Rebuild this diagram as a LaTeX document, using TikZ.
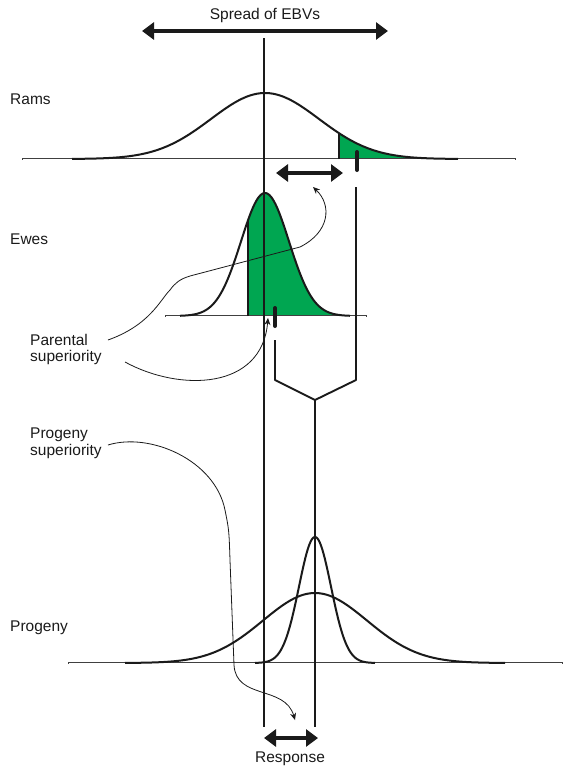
\documentclass[tikz,border=0pt]{standalone}
\usepackage{fontspec}
\setmainfont{Liberation Sans}
\usetikzlibrary{arrows.meta}
\definecolor{fillgreen}{HTML}{00A651}
\definecolor{ink}{HTML}{1A1A1A}
\pgfmathdeclarefunction{bell}{3}{\pgfmathparse{exp(-0.5*pow((#1-#2)/#3,2))}}
\tikzset{
  every picture/.style={x=1pt, y=-1pt, line join=round},
  lbl/.style={font=\fontsize{15.5}{16.5}\selectfont, inner sep=0pt, text=ink},
  axisedge/.style={draw=black!75, line width=2.6pt},
  axiscore/.style={draw=white, line width=1pt},
  curve/.style={draw=ink, line width=2pt},
  guide/.style={draw=ink, line width=1.9pt},
  tickmark/.style={draw=ink, line width=4pt, line cap=round},
  span/.style={draw=ink, line width=4.5pt, {Triangle[width=17pt,length=12pt]}-{Triangle[width=17pt,length=12pt]}},
  annot/.style={draw=ink, line width=0.8pt, -{Stealth[length=7pt,width=6pt]}},
}
\begin{document}
\begin{tikzpicture}
  \useasboundingbox (0,0) rectangle (565,766);
  % selected parts
  \fill[fillgreen] (339,159) -- plot[domain=339:455, samples=40] (\x,{159-66*bell(\x,265,54)}) -- (455,159) -- cycle;
  \fill[fillgreen] (248,316) -- plot[domain=248:350, samples=60] (\x,{316-123*bell(\x,265,24)}) -- (350,316) -- cycle;
  % base lines
  \foreach \xa/\xb/\yb in {22/516/159, 165/367/316, 68/563/663} {
    \draw[axisedge] (\xa,\yb) -- (\xb,\yb);
    \draw[axiscore] (\xa+1,\yb) -- (\xb-1,\yb);
  }
  % distributions
  \draw[curve] plot[domain=72:458, samples=120] (\x,{159-66*bell(\x,265,54)});
  \draw[curve] plot[domain=180:350, samples=120] (\x,{316-123*bell(\x,265,24)});
  \draw[curve] plot[domain=125:505, samples=120] (\x,{663-70*bell(\x,315,52)});
  \draw[curve] plot[domain=255:375, samples=120] (\x,{663-126*bell(\x,315,16)});
  \draw[curve] (339,159) -- (339,{159-66*bell(339,265,54)});
  \draw[curve] (248,316) -- (248,{316-123*bell(248,265,24)});
  % mean lines
  \coordinate (mid-top) at (264,38);
  \coordinate (mid-bot) at (264,727);
  \coordinate (prog-top) at (315,400);
  \coordinate (prog-bot) at (315,727);
  \draw[guide] (mid-top) -- (mid-bot);
  \draw[guide] (356,187) -- (356,380) -- (prog-top);
  \draw[guide] (275,340) -- (275,380) -- (prog-top);
  \draw[guide] (prog-top) -- (prog-bot);
  % means of selected parents
  \draw[tickmark] (357,152) -- (357,170);
  \draw[tickmark] (275,308) -- (275,326);
  % spans
  \coordinate (spread-l) at (142,31);
  \coordinate (spread-r) at (388,31);
  \coordinate (gap-l) at (276,173);
  \coordinate (gap-r) at (343,173);
  \coordinate (resp-l) at (264,738);
  \coordinate (resp-r) at (318,738);
  \draw[span] (spread-l) -- (spread-r);
  \draw[span] (gap-l) -- (gap-r);
  \draw[span] (resp-l) -- (resp-r);
  % labels
  \node[lbl, anchor=base] (spread) at (265,19) {Spread of EBVs};
  \node[lbl, anchor=base west] (rams) at (10,104) {Rams};
  \node[lbl, anchor=base west] (ewes) at (10,244) {Ewes};
  \node[lbl, anchor=base west] (progeny) at (10,631) {Progeny};
  \node[lbl, anchor=base] (response) at (290,762) {Response};
  \node[lbl, anchor=north west, align=left] (parsup) at (30,334) {Parental\\superiority};
  \node[lbl, anchor=north west, align=left] (progsup) at (30,428) {Progeny\\superiority};
  % pointers
  \coordinate (gap-tip) at (313,187);
  \coordinate (ewe-tip) at (268,318);
  \coordinate (resp-tip) at (295,720);
  \draw[annot] (108,340) .. controls (150,325) and (160,300) .. (170,290)
    .. controls (175,283) and (180,279) .. (190,276) -- (300,247)
    .. controls (330,232) and (332,205) .. (gap-tip);
  \draw[annot] (125,362) .. controls (180,392) and (262,390) .. (ewe-tip);
  \draw[annot] (108,445) .. controls (150,432) and (215,460) .. (225,510)
    .. controls (229,530) .. (230,560) -- (234,665)
    .. controls (236,700) and (285,685) .. (resp-tip);
\end{tikzpicture}
\end{document}
